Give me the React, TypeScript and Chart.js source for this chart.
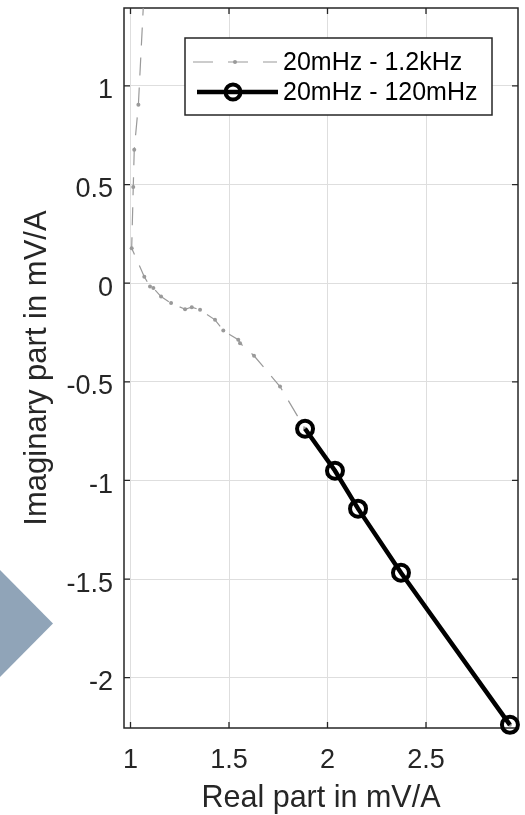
import React, { useEffect, useRef } from "react";
import { Chart, registerables } from "chart.js";

Chart.register(...registerables);

// ---- data ----
const xTicks = [1, 1.5, 2, 2.5];
const yTicks = [-2, -1.5, -1, -0.5, 0, 0.5, 1];
const xMin = 0.967;
const xMax = 2.967;
const yMin = -2.255;
const yMax = 1.395;

const seriesLabels = ["20mHz - 1.2kHz", "20mHz - 120mHz"];
const xTitle = "Real part in mV/A";
const yTitle = "Imaginary part in mV/A";

// 20mHz - 1.2kHz (high frequency first)
const wideRe = [1.075, 1.04, 1.019, 1.014, 1.006, 1.07, 1.099, 1.116, 1.155, 1.206, 1.277, 1.311, 1.353, 1.429, 1.471, 1.547, 1.556, 1.627, 1.759, 1.886, 2.038, 2.155, 2.373, 2.926];
const wideIm = [1.6, 0.904, 0.676, 0.488, 0.177, 0.033, -0.017, -0.025, -0.068, -0.101, -0.132, -0.122, -0.135, -0.186, -0.24, -0.287, -0.304, -0.368, -0.524, -0.738, -0.951, -1.143, -1.468, -2.239];

// 20mHz - 120mHz
const lowRe = [1.886, 2.038, 2.155, 2.373, 2.926];
const lowIm = [-0.738, -0.951, -1.143, -1.468, -2.239];

const FONT = "'Liberation Sans', Arial, Helvetica, sans-serif";
const AX = "#262626";
const GRAY = "#9a9a9a";

const zeroPad = (s: any) => {
  s.paddingTop = 0;
  s.paddingBottom = 0;
  s.paddingLeft = 0;
  s.paddingRight = 0;
};

const framePlugin = {
  id: "frame",
  beforeDatasetsDraw(chart: any) {
    const { ctx, chartArea: a, scales } = chart;
    ctx.save();
    ctx.strokeStyle = AX;
    ctx.lineWidth = 1.5;
    ctx.strokeRect(a.left, a.top, a.right - a.left, a.bottom - a.top);
    const tl = 6;
    ctx.lineWidth = 1.3;
    ctx.beginPath();
    for (const t of scales.x.ticks) {
      const px = scales.x.getPixelForValue(t.value);
      ctx.moveTo(px, a.bottom);
      ctx.lineTo(px, a.bottom - tl);
      ctx.moveTo(px, a.top);
      ctx.lineTo(px, a.top + tl);
    }
    for (const t of scales.y.ticks) {
      const py = scales.y.getPixelForValue(t.value);
      ctx.moveTo(a.left, py);
      ctx.lineTo(a.left + tl, py);
      ctx.moveTo(a.right, py);
      ctx.lineTo(a.right - tl, py);
    }
    ctx.stroke();
    ctx.restore();
  },
};

const legendPlugin = {
  id: "boxLegend",
  afterDraw(chart: any) {
    const { ctx, chartArea: a } = chart;
    const right = a.right - 26;
    const top = a.top + 30;
    const w = 307;
    const h = 77;
    const left = right - w;
    ctx.save();
    ctx.fillStyle = "#ffffff";
    ctx.fillRect(left, top, w, h);
    ctx.strokeStyle = AX;
    ctx.lineWidth = 1.5;
    ctx.strokeRect(left, top, w, h);

    const y1 = top + 24;
    const y2 = top + 54;
    // gray dashed sample
    ctx.strokeStyle = GRAY;
    ctx.lineWidth = 1.2;
    ctx.setLineDash([20, 15]);
    ctx.beginPath();
    ctx.moveTo(left + 8, y1);
    ctx.lineTo(left + 92, y1);
    ctx.stroke();
    ctx.setLineDash([]);
    ctx.fillStyle = GRAY;
    ctx.beginPath();
    ctx.arc(left + 50, y1, 2, 0, Math.PI * 2);
    ctx.fill();
    // black sample
    ctx.strokeStyle = "#000";
    ctx.lineWidth = 4.5;
    ctx.beginPath();
    ctx.moveTo(left + 12, y2);
    ctx.lineTo(left + 93, y2);
    ctx.stroke();
    ctx.lineWidth = 4;
    ctx.beginPath();
    ctx.arc(left + 48, y2, 7.5, 0, Math.PI * 2);
    ctx.stroke();
    // texts
    ctx.fillStyle = "#000";
    ctx.font = `25px ${FONT}`;
    ctx.textBaseline = "middle";
    ctx.textAlign = "left";
    ctx.fillText(seriesLabels[0], left + 98, y1 + 1);
    ctx.fillText(seriesLabels[1], left + 98, y2 + 1);
    ctx.restore();
  },
};

export default function App() {
  const ref = useRef<HTMLCanvasElement>(null);

  useEffect(() => {
    document.body.style.margin = "0";
    const canvas = ref.current!;
    const chart = new Chart(canvas, {
      type: "scatter",
      data: {
        datasets: [
          {
            label: seriesLabels[0],
            data: wideRe.map((x, i) => ({ x, y: wideIm[i] })),
            showLine: true,
            order: 2,
            borderColor: GRAY,
            borderWidth: 1.2,
            borderDash: [18, 12],
            pointRadius: 2,
            pointBackgroundColor: GRAY,
            pointBorderWidth: 0,
            pointHoverRadius: 2,
          },
          {
            label: seriesLabels[1],
            data: lowRe.map((x, i) => ({ x, y: lowIm[i] })),
            showLine: true,
            order: 1,
            borderColor: "#000",
            borderWidth: 4.5,
            pointRadius: 8,
            pointBorderWidth: 4,
            pointBorderColor: "#000",
            pointBackgroundColor: "rgba(0,0,0,0)",
            clip: false as any,
          },
        ],
      },
      options: {
        responsive: false,
        animation: false,
        events: [],
        layout: { autoPadding: false, padding: { left: 0, top: 8, right: 7, bottom: 0 } },
        plugins: {
          legend: { display: false },
          tooltip: { enabled: false },
          title: { display: false },
        },
        scales: {
          x: {
            type: "linear",
            min: xMin,
            max: xMax,
            afterBuildTicks: (s: any) => {
              s.ticks = xTicks.map((v) => ({ value: v }));
            },
            afterFit: (s: any) => {
              s.height = 87;
              zeroPad(s);
            },
            grid: { color: "#dedede", lineWidth: 1, drawTicks: false },
            border: { display: false },
            ticks: {
              includeBounds: false,
              color: AX,
              padding: 16,
              font: { family: FONT, size: 27, lineHeight: 1.2 },
              callback: (v: any) => String(v),
            },
            title: {
              display: true,
              text: xTitle,
              color: AX,
              font: { family: FONT, size: 30.5, lineHeight: 1 },
              padding: { top: 0, bottom: 1 },
            },
          },
          y: {
            type: "linear",
            min: yMin,
            max: yMax,
            afterBuildTicks: (s: any) => {
              s.ticks = yTicks.map((v) => ({ value: v }));
            },
            afterFit: (s: any) => {
              s.width = 124;
              zeroPad(s);
            },
            grid: { color: "#dedede", lineWidth: 1, drawTicks: false },
            border: { display: false },
            ticks: {
              includeBounds: false,
              color: AX,
              padding: 11,
              labelOffset: 5,
              font: { family: FONT, size: 27, lineHeight: 1.2 },
              callback: (v: any) => String(v),
            },
            title: {
              display: true,
              text: yTitle,
              color: AX,
              font: { family: FONT, size: 31, lineHeight: 1.2 },
              padding: { top: 19, bottom: 0 },
            },
          },
        },
      },
      plugins: [framePlugin, legendPlugin],
    });
    return () => chart.destroy();
  }, []);

  return (
    <div style={{ position: "fixed", left: 0, top: 0, width: 525, height: 815, background: "#fff" }}>
      <canvas ref={ref} width={525} height={815} style={{ display: "block" }} />
      <div
        style={{
          position: "absolute",
          left: 0,
          top: 570,
          width: 53,
          height: 107,
          background: "#90a4b8",
          clipPath: "polygon(0 0, 100% 50%, 0 100%)",
        }}
      />
    </div>
  );
}
